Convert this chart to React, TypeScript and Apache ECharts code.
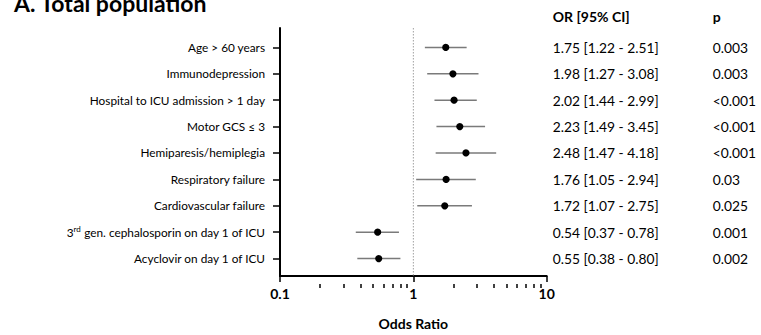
import React, { useEffect, useRef } from "react";
import * as echarts from "echarts";

const categories = [
  "Age > 60 years",
  "Immunodepression",
  "Hospital to ICU admission > 1 day",
  "Motor GCS ≤ 3",
  "Hemiparesis/hemiplegia",
  "Respiratory failure",
  "Cardiovascular failure",
  "3rd gen. cephalosporin on day 1 of ICU",
  "Acyclovir on day 1 of ICU",
];
const oddsRatio = [1.75, 1.98, 2.02, 2.23, 2.48, 1.76, 1.72, 0.54, 0.55];
const ciLow = [1.22, 1.27, 1.44, 1.49, 1.47, 1.05, 1.07, 0.37, 0.38];
const ciHigh = [2.51, 3.08, 2.99, 3.45, 4.18, 2.94, 2.75, 0.78, 0.8];
const pValues = ["0.003", "0.003", "<0.001", "<0.001", "<0.001", "0.03", "0.025", "0.001", "0.002"];
const majorTicks = [0.1, 1, 10];
const minorTicks = [0.2, 0.3, 0.4, 0.5, 0.6, 0.7, 0.8, 0.9, 2, 3, 4, 5, 6, 7, 8, 9];
const refValue = 1;

const FONT = "Lato";

export default function App() {
  const ref = useRef<HTMLDivElement>(null);
  useEffect(() => {
    document.body.style.margin = "0";
    const chart = echarts.init(ref.current!, null, { renderer: "svg" });
    const rows = categories.map((_, i) => i);
    const yMin = -0.734;
    const yMax = 8.66;
    const gridTop = 28;
    const gridBottom = 51;
    const plotH = 335 - gridTop - gridBottom;
    const orText = oddsRatio.map(
      (v, i) => `${v.toFixed(2)} [${ciLow[i].toFixed(2)} - ${ciHigh[i].toFixed(2)}]`
    );
    const baseY = {
      type: "value",
      inverse: true,
      min: yMin,
      max: yMax,
      splitLine: { show: false },
    };
    const option: any = {
      animation: false,
      textStyle: { fontFamily: FONT },
      graphic: [
        {
          type: "text",
          x: 14,
          y: 3,
          style: {
            text: "A. Total population",
            font: `bold 23px ${FONT}`,
            fill: "#000",
            verticalAlign: "middle",
            align: "left",
          },
        },
      ],
      grid: { left: 280, right: 214.3, top: gridTop, bottom: gridBottom },
      xAxis: [
        {
          type: "log",
          logBase: 10,
          min: 0.1,
          max: 10,
          position: "bottom",
          name: "Odds Ratio",
          nameLocation: "middle",
          nameGap: 40,
          nameTextStyle: { fontSize: 14, fontWeight: "bold", color: "#000", fontFamily: FONT },
          axisLine: { onZero: false, lineStyle: { color: "#000", width: 2 } },
          axisTick: { length: 6, lineStyle: { color: "#000", width: 1.5 }, customValues: majorTicks },
          axisLabel: {
            customValues: majorTicks,
            fontSize: 14,
            fontWeight: "bold",
            color: "#000",
            margin: 10,
            fontFamily: FONT,
          },
          splitLine: { show: false },
          minorTick: { show: false },
        },
        {
          type: "log",
          logBase: 10,
          min: 0.1,
          max: 10,
          position: "top",
          offset: -plotH,
          axisLine: { show: false, onZero: false },
          axisTick: {
            show: true,
            inside: true,
            length: 4,
            lineStyle: { color: "#000", width: 1.5 },
            customValues: minorTicks,
          },
          axisLabel: { show: false },
          splitLine: { show: false },
        },
      ],
      yAxis: [
        {
          ...baseY,
          position: "left",
          axisLine: { show: true, onZero: false, lineStyle: { color: "#000", width: 2 } },
          axisTick: { show: true, length: 7, lineStyle: { color: "#000", width: 1.5 }, customValues: rows },
          axisLabel: {
            customValues: rows,
            fontSize: 11.8,
            color: "#000",
            margin: 15,
            lineHeight: 15,
            fontFamily: FONT,
            formatter: (v: number) => {
              const s = categories[Math.round(v)] ?? "";
              return s.replace(/^(\d)(rd|st|nd|th)\b/, "$1{sup|$2}");
            },
            rich: {
              sup: { fontSize: 8, verticalAlign: "top", lineHeight: 9, color: "#000", fontFamily: FONT },
            },
          },
        },
        {
          ...baseY,
          position: "right",
          name: "OR [95% CI]",
          nameLocation: "start",
          nameGap: 5,
          nameTextStyle: { fontSize: 14, fontWeight: "bold", color: "#000", align: "left", padding: [0, 0, 0, 6], fontFamily: FONT },
          axisLine: { show: false, onZero: false },
          axisTick: { show: false },
          axisLabel: {
            customValues: rows,
            fontSize: 13.8,
            color: "#000",
            margin: 6,
            align: "left",
            fontFamily: FONT,
            formatter: (v: number) => orText[Math.round(v)] ?? "",
          },
        },
        {
          ...baseY,
          position: "right",
          offset: 160,
          name: "p",
          nameLocation: "start",
          nameGap: 5,
          nameTextStyle: { fontSize: 14, fontWeight: "bold", color: "#000", align: "left", padding: [0, 0, 0, 6], fontFamily: FONT },
          axisLine: { show: false, onZero: false },
          axisTick: { show: false },
          axisLabel: {
            customValues: rows,
            fontSize: 13.8,
            color: "#000",
            margin: 6,
            align: "left",
            fontFamily: FONT,
            formatter: (v: number) => pValues[Math.round(v)] ?? "",
          },
        },
      ],
      series: [
        {
          type: "line",
          xAxisIndex: 0,
          yAxisIndex: 0,
          data: [
            [refValue, yMin],
            [refValue, yMax],
          ],
          symbol: "none",
          lineStyle: { color: "#a0a0a0", width: 1, type: [1.5, 1.5] },
          silent: true,
          z: 1,
        },
        {
          type: "custom",
          xAxisIndex: 0,
          yAxisIndex: 0,
          encode: { x: [0, 1, 2], y: 3 },
          data: oddsRatio.map((v, i) => [v, ciLow[i], ciHigh[i], i]),
          renderItem: (params: any, api: any) => {
            const y = api.value(3);
            const p0 = api.coord([api.value(1), y]);
            const p1 = api.coord([api.value(2), y]);
            const pc = api.coord([api.value(0), y]);
            return {
              type: "group",
              children: [
                {
                  type: "line",
                  shape: { x1: p0[0], y1: p0[1], x2: p1[0], y2: p1[1] },
                  style: { stroke: "#7a7a7a", lineWidth: 1.5 },
                },
                {
                  type: "circle",
                  shape: { cx: pc[0], cy: pc[1], r: 3.6 },
                  style: { fill: "#000" },
                },
              ],
            };
          },
          z: 3,
        },
      ],
    };
    chart.setOption(option);
    return () => chart.dispose();
  }, []);
  return <div ref={ref} style={{ width: 761, height: 335 }} />;
}
